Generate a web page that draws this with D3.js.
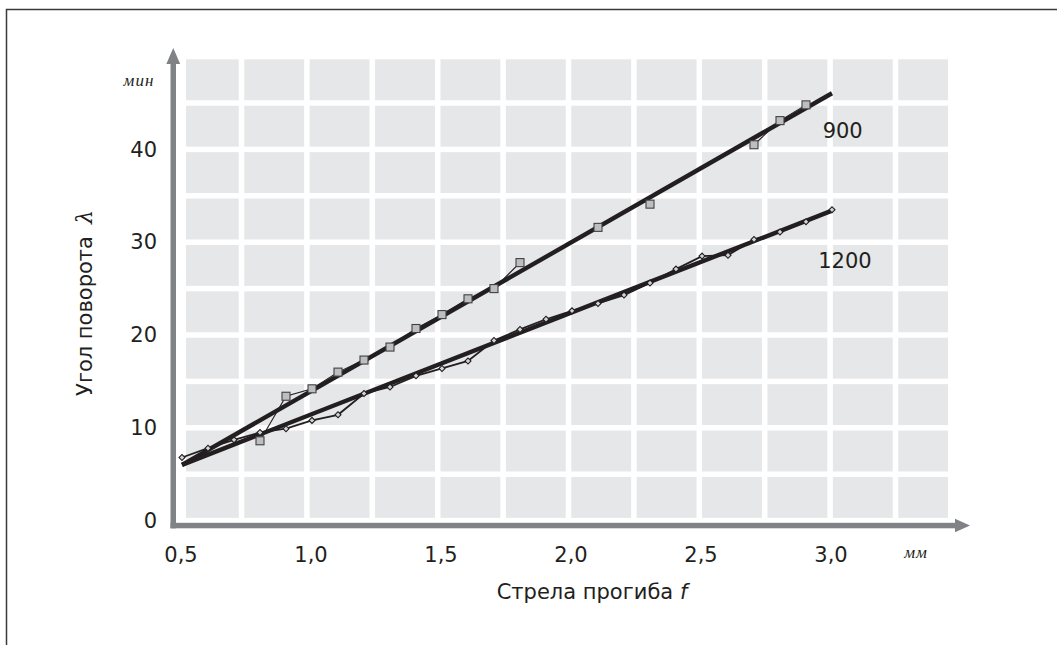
<!DOCTYPE html>
<html>
<head>
<meta charset="utf-8">
<script src="https://cdn.jsdelivr.net/npm/d3@7"></script>
<style>
  body { margin: 0; background: #fff; }
</style>
</head>
<body>
<div id="chart"></div>
<script>
// deflection f, mm
const fValues = [0.5, 0.6, 0.7, 0.8, 0.9, 1.0, 1.1, 1.2, 1.3, 1.4, 1.5, 1.6, 1.7,
                 1.8, 1.9, 2.0, 2.1, 2.2, 2.3, 2.4, 2.5, 2.6, 2.7, 2.8, 2.9, 3.0];
// measured angle, min (null = no measurement)
const angle900 = [null, null, null, 8.6, 13.4, 14.2, 16.0, 17.3, 18.7, 20.7, 22.2, 23.9, 25.0,
                  27.8, null, null, 31.6, null, 34.1, null, null, null, 40.5, 43.1, 44.8, null];
const angle1200 = [6.8, 7.8, 8.7, 9.5, 9.9, 10.8, 11.4, 13.7, 14.4, 15.6, 16.4, 17.2, 19.4,
                   20.6, 21.7, 22.6, 23.4, 24.3, 25.6, 27.1, 28.5, 28.6, 30.3, 31.1, 32.2, 33.5];
// fitted straight lines
const fitF = [0.5, 3.0];
const fit900 = [6.0, 46.05];
const fit1200 = [6.0, 33.4];

const xTicks = [0.5, 1.0, 1.5, 2.0, 2.5, 3.0];
const yTicks = [0, 10, 20, 30, 40];

const W = 1057, H = 645;
const ink = "#231f20";
const axisGrey = "#808285";
const tile = "#e6e7e8";
const font = "'DejaVu Sans', Verdana, sans-serif";

const svg = d3.select("#chart").append("svg")
  .attr("width", W)
  .attr("height", H)
  .style("display", "block");

// outer frame (only top and left edges fall inside the picture)
svg.append("rect")
  .attr("x", 6.5).attr("y", 9.5)
  .attr("width", 1200).attr("height", 800)
  .attr("fill", "none")
  .attr("stroke", "#3a3a3a")
  .attr("stroke-width", 1.5);

const x = d3.scaleLinear().domain([0.5, 3.0]).range([182, 832]);
const y = d3.scaleLinear().domain([0, 50]).range([520.6, 56.6]);

// tiled background
const gap = 5.5;
const colGaps = d3.range(11).map(k => 241.5 + 65.4 * k);
const colEdges = [186, ...colGaps, 948 + gap / 2];
const cols = d3.range(colEdges.length - 1).map(i => ({
  x0: i === 0 ? colEdges[0] : colEdges[i] + gap / 2,
  x1: colEdges[i + 1] - gap / 2
}));
const rowVals = d3.range(0, 50, 5);
const tiles = svg.append("g");
rowVals.forEach(v => {
  cols.forEach(c => {
    tiles.append("rect")
      .attr("x", c.x0)
      .attr("y", y(v + 5) + gap / 2)
      .attr("width", c.x1 - c.x0)
      .attr("height", y(v) - y(v + 5) - gap)
      .attr("fill", tile);
  });
});

// axes with arrows
const ax = svg.append("g").attr("fill", axisGrey);
ax.append("rect").attr("x", 170.5).attr("y", 62).attr("width", 5.5).attr("height", 528.3 - 62);
ax.append("rect").attr("x", 170.5).attr("y", 522.8).attr("width", 956 - 170.5).attr("height", 5.5);
ax.append("path").attr("d", "M173.25,48 L166.3,64 L180.2,64 Z");
ax.append("path").attr("d", "M970,525.5 L955,518.8 L955,532.2 Z");

const yAxis = svg.append("g")
  .attr("transform", "translate(157,0)")
  .call(d3.axisLeft(y).tickValues(yTicks).tickSize(0).tickPadding(0));
yAxis.select(".domain").remove();
yAxis.selectAll("text")
  .attr("fill", ink)
  .style("font-family", font)
  .style("font-size", "21px");

const xAxis = svg.append("g")
  .attr("transform", "translate(-1.5,525)")
  .call(d3.axisBottom(x).tickValues(xTicks).tickSize(0).tickPadding(22)
    .tickFormat(d => d3.format(".1f")(d).replace(".", ",")));
xAxis.select(".domain").remove();
xAxis.selectAll("text")
  .attr("fill", ink)
  .style("font-family", font)
  .style("font-size", "21px");

// units
svg.append("text")
  .attr("x", 139).attr("y", 86)
  .attr("text-anchor", "middle")
  .attr("fill", ink)
  .style("font-family", "'Liberation Serif', serif")
  .style("font-style", "italic")
  .style("font-size", "17px")
  .style("letter-spacing", "1px")
  .text("мин");

svg.append("text")
  .attr("x", 916).attr("y", 558)
  .attr("text-anchor", "middle")
  .attr("fill", ink)
  .style("font-family", "'Liberation Serif', serif")
  .style("font-style", "italic")
  .style("font-size", "17px")
  .style("letter-spacing", "1px")
  .text("мм");

// axis titles
const yTitle = svg.append("text")
  .attr("transform", "translate(92,303) rotate(-90)")
  .attr("text-anchor", "middle")
  .attr("fill", ink)
  .style("font-family", font)
  .style("font-size", "21px");
yTitle.append("tspan").text("Угол поворота");
yTitle.append("tspan")
  .attr("dx", 12)
  .style("font-family", "'DejaVu Serif', serif")
  .style("font-style", "italic")
  .style("font-size", "22px")
  .text("λ");

const xTitle = svg.append("text")
  .attr("x", 592).attr("y", 599)
  .attr("text-anchor", "middle")
  .attr("fill", ink)
  .style("font-family", font)
  .style("font-size", "21px");
xTitle.append("tspan").text("Стрела прогиба ");
xTitle.append("tspan").style("font-style", "italic").text("f");

// fitted lines
const fitLine = d3.line().x(d => x(d[0])).y(d => y(d[1]));
[fit900, fit1200].forEach(fit => {
  svg.append("path")
    .datum(d3.zip(fitF, fit))
    .attr("d", fitLine)
    .attr("fill", "none")
    .attr("stroke", ink)
    .attr("stroke-width", 4.4);
});

// measured data
const rawLine = d3.line()
  .defined(d => d[1] != null)
  .x(d => x(d[0]))
  .y(d => y(d[1]));

const pts1200 = d3.zip(fValues, angle1200);
const pts900 = d3.zip(fValues, angle900);

svg.append("path")
  .datum(pts1200)
  .attr("d", rawLine)
  .attr("fill", "none")
  .attr("stroke", ink)
  .attr("stroke-width", 1.8);

svg.append("path")
  .datum(pts900)
  .attr("d", rawLine)
  .attr("fill", "none")
  .attr("stroke", ink)
  .attr("stroke-width", 1.1);

svg.append("g").selectAll("path")
  .data(pts1200.filter(d => d[1] != null))
  .join("path")
  .attr("transform", d => `translate(${x(d[0])},${y(d[1])}) rotate(45)`)
  .attr("d", d3.symbol(d3.symbolSquare, 18))
  .attr("fill", "#d1d3d4")
  .attr("stroke", ink)
  .attr("stroke-width", 1.1);

svg.append("g").selectAll("rect")
  .data(pts900.filter(d => d[1] != null))
  .join("rect")
  .attr("x", d => x(d[0]) - 4)
  .attr("y", d => y(d[1]) - 4)
  .attr("width", 8)
  .attr("height", 8)
  .attr("fill", "#bcbec0")
  .attr("stroke", "#414042")
  .attr("stroke-width", 1.1);

// series labels
svg.append("text")
  .attr("x", x(2.964)).attr("y", y(41.2))
  .attr("fill", ink)
  .style("font-family", font)
  .style("font-size", "21px")
  .text("900");

svg.append("text")
  .attr("x", x(2.947)).attr("y", y(27.2))
  .attr("fill", ink)
  .style("font-family", font)
  .style("font-size", "21px")
  .text("1200");
</script>
</body>
</html>
